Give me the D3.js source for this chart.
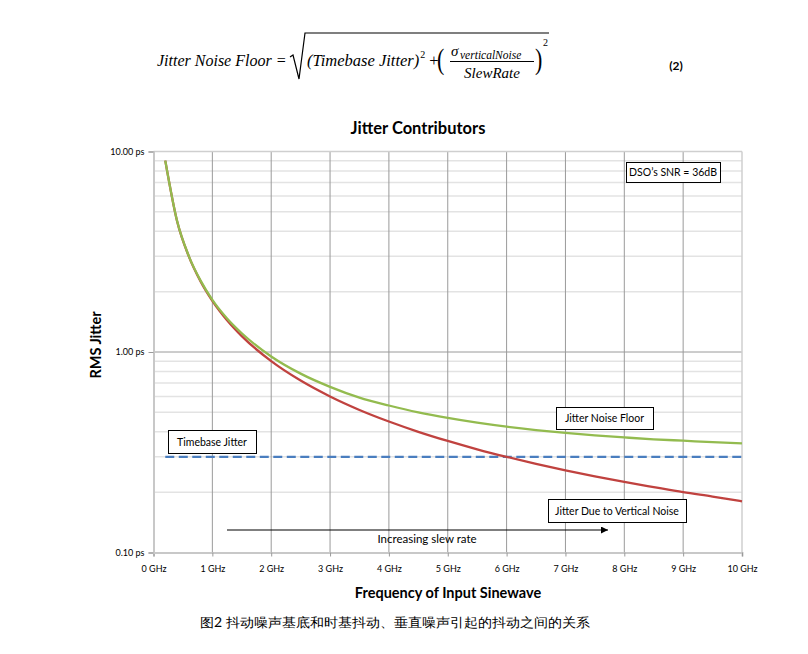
<!DOCTYPE html>
<meta charset="UTF-8">
<style>
  body { margin: 0; background: #fff; }
  text { font-family: Lato, "Open Sans", sans-serif; }
  .formula text { font-family: "Liberation Serif", "DejaVu Serif", serif; font-style: italic; }
  .grid-minor { stroke: #e3e3e3; stroke-width: 1.5; }
  .grid-major { stroke: #9a9a9a; stroke-width: 1; }
  .callout rect { fill: #fff; stroke: #000; stroke-width: 1; }
  .callout text { font-size: 10.5px; }
</style>
<body>
<svg id="chart" width="808" height="654"></svg>

<script src="https://cdn.jsdelivr.net/npm/d3@7"></script>
<script>

// values (ps against GHz)
var freqGHz = [0.2, 0.4, 0.6, 0.8, 1.0, 1.25, 1.5, 2, 2.5, 3, 3.5, 4, 4.5, 5, 5.5, 6, 6.5, 7, 7.5, 8, 8.5, 9, 9.5, 10];
var verticalNoiseJitter = [9.0, 4.5, 3.0, 2.25, 1.8, 1.44, 1.2, 0.9, 0.72, 0.6, 0.514, 0.45, 0.4, 0.36, 0.327, 0.30, 0.277, 0.257, 0.24, 0.225, 0.212, 0.20, 0.19, 0.18];
var jitterNoiseFloor = [9.0, 4.51, 3.01, 2.27, 1.82, 1.47, 1.24, 0.95, 0.78, 0.67, 0.592, 0.541, 0.50, 0.469, 0.444, 0.424, 0.408, 0.395, 0.384, 0.375, 0.367, 0.361, 0.355, 0.35];
var timebaseJitter = 0.3;

var xTicks = [0, 1, 2, 3, 4, 5, 6, 7, 8, 9, 10];
var xTickLabels = ["0 GHz", "1 GHz", "2 GHz", "3 GHz", "4 GHz", "5 GHz", "6 GHz", "7 GHz", "8 GHz", "9 GHz", "10 GHz"];
var yTicks = [0.1, 1, 10];
var yTickLabels = ["0.10 ps", "1.00 ps", "10.00 ps"];

var svg = d3.select("#chart");

// plot area (don't call these top/left: window.top is read-only)
var plotL = 153.5, plotR = 742, plotT = 151.5, plotB = 552.5;

var x = d3.scaleLinear().domain([0, 10]).range([plotL, plotR]);
var y = d3.scaleLog().domain([0.1, 10]).range([plotB, plotT]);

// ---------- formula ----------
var f = svg.append("g").attr("class", "formula");
f.append("text").attr("x", 157).attr("y", 66).attr("font-size", 16).text("Jitter Noise Floor =");
// radical
f.append("path")
  .attr("d", "M290,57 L293,55 L299,79 L305,33 L549,33")
  .attr("fill", "none").attr("stroke", "#000").attr("stroke-width", 1.2);
var tb = f.append("text").attr("x", 307).attr("y", 66).attr("font-size", 16.5).text("(Timebase Jitter)");
var xe = 307 + tb.node().getComputedTextLength();
f.append("text").attr("x", xe + 1).attr("y", 58).attr("font-size", 10).style("font-style", "normal").text("2");
f.append("text").attr("x", xe + 10).attr("y", 66).attr("font-size", 16.5).style("font-style", "normal").text("+");
f.append("text").attr("transform", "translate(437,69) scale(1,1.35)").attr("font-size", 22).style("font-style", "normal").text("(");
f.append("text").attr("x", 451).attr("y", 56).attr("font-size", 15).text("σ");
f.append("text").attr("x", 460).attr("y", 59).attr("font-size", 11.5).text("verticalNoise");
f.append("line").attr("x1", 450).attr("x2", 534).attr("y1", 61.5).attr("y2", 61.5).attr("stroke", "#000").attr("stroke-width", 1);
f.append("text").attr("x", 492).attr("y", 78).attr("text-anchor", "middle").attr("font-size", 15).text("SlewRate");
f.append("text").attr("transform", "translate(535,69) scale(1,1.35)").attr("font-size", 22).style("font-style", "normal").text(")");
f.append("text").attr("x", 543).attr("y", 46).attr("font-size", 10).style("font-style", "normal").text("2");
svg.append("text").attr("x", 676).attr("y", 70).attr("text-anchor", "middle")
  .attr("font-size", 12).attr("font-weight", "bold").text("(2)");

// ---------- title ----------
svg.append("text").attr("x", 418).attr("y", 134).attr("text-anchor", "middle")
  .attr("font-size", 16.5).attr("font-weight", "bold").text("Jitter Contributors");

// ---------- grid ----------
var minorVals = [];
[0.1, 1].forEach(function(d) {
  for (var k = 2; k <= 9; k++) minorVals.push(d * k);
});
svg.append("g").selectAll("line").data(minorVals).enter().append("line")
  .attr("class", "grid-minor")
  .attr("x1", plotL).attr("x2", plotR)
  .attr("y1", function(d) { return y(d); }).attr("y2", function(d) { return y(d); });

svg.append("g").selectAll("line").data(xTicks.slice(1, -1)).enter().append("line")
  .attr("class", "grid-major")
  .attr("x1", function(d) { return x(d); }).attr("x2", function(d) { return x(d); })
  .attr("y1", plotT).attr("y2", plotB);

svg.append("line").attr("class", "grid-major")
  .attr("x1", plotL).attr("x2", plotR).attr("y1", y(1)).attr("y2", y(1));

// frame
svg.append("line").attr("x1", plotL).attr("x2", plotR).attr("y1", plotT).attr("y2", plotT).attr("stroke", "#cfcfcf").attr("stroke-width", 1.5);
svg.append("line").attr("x1", plotR).attr("x2", plotR).attr("y1", plotT).attr("y2", plotB).attr("stroke", "#cfcfcf").attr("stroke-width", 1.5);

// ---------- axes ----------
var xAxis = d3.axisBottom(x).tickValues(xTicks)
  .tickFormat(function(d, i) { return xTickLabels[i]; })
  .tickSize(4).tickPadding(9);
var gx = svg.append("g").attr("transform", "translate(0," + plotB + ")").call(xAxis);
gx.select(".domain").attr("stroke", "#c8c8c8").attr("stroke-width", 2);
gx.selectAll(".tick line").attr("stroke", "#9a9a9a");
gx.selectAll(".tick text").attr("font-family", "Lato, sans-serif").attr("font-size", 9).attr("fill", "#000");

var yAxis = d3.axisLeft(y).tickValues(yTicks)
  .tickFormat(function(d, i) { return yTickLabels[i]; })
  .tickSize(5).tickPadding(4);
var gy = svg.append("g").attr("transform", "translate(" + plotL + ",0)").call(yAxis);
gy.select(".domain").attr("stroke", "#c8c8c8").attr("stroke-width", 2);
gy.selectAll(".tick line").attr("stroke", "#9a9a9a");
gy.selectAll(".tick text").attr("font-family", "Lato, sans-serif").attr("font-size", 9).attr("fill", "#000");

// axis titles
svg.append("text").attr("x", 448).attr("y", 598).attr("text-anchor", "middle")
  .attr("font-size", 14.5).attr("font-weight", "bold").text("Frequency of Input Sinewave");
svg.append("text").attr("transform", "translate(101,345) rotate(-90)").attr("text-anchor", "middle")
  .attr("font-size", 14.5).attr("font-weight", "bold").text("RMS Jitter");

// ---------- series ----------
var line = d3.line()
  .x(function(d) { return x(d[0]); })
  .y(function(d) { return y(d[1]); })
  .curve(d3.curveMonotoneX);

svg.append("line")
  .attr("x1", x(freqGHz[0])).attr("x2", x(10))
  .attr("y1", y(timebaseJitter)).attr("y2", y(timebaseJitter))
  .attr("stroke", "#4a7ebf").attr("stroke-width", 2.2).attr("stroke-dasharray", "9,4.5");

svg.append("path")
  .datum(d3.zip(freqGHz, verticalNoiseJitter))
  .attr("fill", "none").attr("stroke", "#c0423f").attr("stroke-width", 2.3)
  .attr("d", line);

svg.append("path")
  .datum(d3.zip(freqGHz, jitterNoiseFloor))
  .attr("fill", "none").attr("stroke", "#93bb4f").attr("stroke-width", 2.3)
  .attr("d", line);

// ---------- callouts ----------
function callout(x0, y0, w, h, label) {
  var g = svg.append("g").attr("class", "callout");
  g.append("rect").attr("x", x0 + 0.5).attr("y", y0 + 0.5).attr("width", w).attr("height", h);
  g.append("text").attr("x", x0 + w / 2).attr("y", y0 + h / 2 + 4).attr("text-anchor", "middle").text(label);
}
callout(626, 162, 94, 20, "DSO\u2019s SNR = 36dB");
callout(168, 430, 88, 23, "Timebase Jitter");
callout(556, 407, 97, 22, "Jitter Noise Floor");
callout(548, 499, 138, 23, "Jitter Due to Vertical Noise");

// arrow
svg.append("defs").append("marker")
  .attr("id", "arrowhead").attr("viewBox", "0 0 10 10")
  .attr("refX", 10).attr("refY", 5).attr("markerWidth", 10).attr("markerHeight", 7)
  .attr("markerUnits", "userSpaceOnUse").attr("orient", "auto")
  .append("path").attr("d", "M0,0 L10,5 L0,10 z").attr("fill", "#000");
svg.append("line").attr("x1", 227).attr("x2", 608).attr("y1", 530).attr("y2", 530)
  .attr("stroke", "#000").attr("stroke-width", 1.2).attr("marker-end", "url(#arrowhead)");
svg.append("text").attr("x", 427).attr("y", 543).attr("text-anchor", "middle")
  .attr("font-family", "'Liberation Sans', Arial, sans-serif").attr("font-size", 11.5).text("Increasing slew rate");

// caption
svg.append("text").attr("x", 200).attr("y", 627)
  .attr("font-family", "'Noto Sans CJK SC', sans-serif").attr("font-size", 13)
  .attr("textLength", 390).attr("lengthAdjust", "spacingAndGlyphs")
  .text("图2 抖动噪声基底和时基抖动、垂直噪声引起的抖动之间的关系");

</script>
</body>
